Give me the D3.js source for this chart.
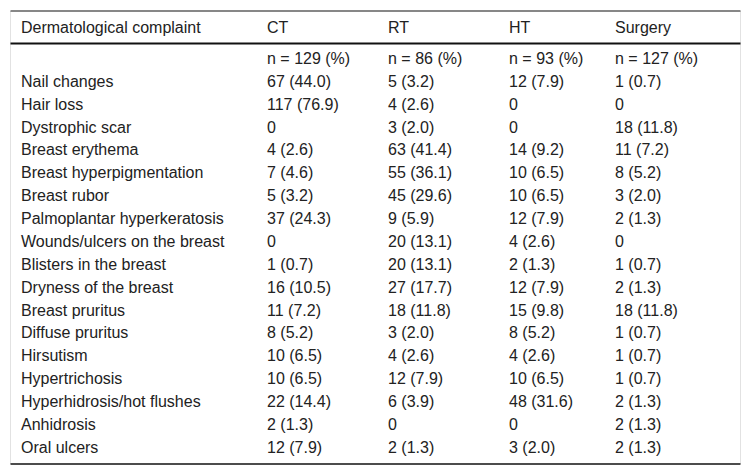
<!DOCTYPE html>
<html>
<head>
<meta charset="utf-8">
<script src="https://cdn.jsdelivr.net/npm/d3@7"></script>
<style>
  body { margin: 0; background: #fff; }
  text { font-family: "Liberation Sans", Arial, sans-serif; font-size: 16px; fill: #222; }
</style>
</head>
<body>
<svg id="tbl" width="751" height="476"></svg>
<script>
// table contents
const complaints = ['Nail changes', 'Hair loss', 'Dystrophic scar', 'Breast erythema',
  'Breast hyperpigmentation', 'Breast rubor', 'Palmoplantar hyperkeratosis',
  'Wounds/ulcers on the breast', 'Blisters in the breast', 'Dryness of the breast',
  'Breast pruritus', 'Diffuse pruritus', 'Hirsutism', 'Hypertrichosis',
  'Hyperhidrosis/hot flushes', 'Anhidrosis', 'Oral ulcers'];
const groups = ['CT', 'RT', 'HT', 'Surgery'];
const groupN = [129, 86, 93, 127];

const ctCount = [67, 117, 0, 4, 7, 5, 37, 0, 1, 16, 11, 8, 10, 10, 22, 2, 12];
const ctPct   = [44.0, 76.9, 0, 2.6, 4.6, 3.2, 24.3, 0, 0.7, 10.5, 7.2, 5.2, 6.5, 6.5, 14.4, 1.3, 7.9];
const rtCount = [5, 4, 3, 63, 55, 45, 9, 20, 20, 27, 18, 3, 4, 12, 6, 0, 2];
const rtPct   = [3.2, 2.6, 2.0, 41.4, 36.1, 29.6, 5.9, 13.1, 13.1, 17.7, 11.8, 2.0, 2.6, 7.9, 3.9, 0, 1.3];
const htCount = [12, 0, 0, 14, 10, 10, 12, 4, 2, 12, 15, 8, 4, 10, 48, 0, 3];
const htPct   = [7.9, 0, 0, 9.2, 6.5, 6.5, 7.9, 2.6, 1.3, 7.9, 9.8, 5.2, 2.6, 6.5, 31.6, 0, 2.0];
const suCount = [1, 0, 18, 11, 8, 3, 2, 0, 1, 2, 18, 1, 1, 1, 2, 2, 2];
const suPct   = [0.7, 0, 11.8, 7.2, 5.2, 2.0, 1.3, 0, 0.7, 1.3, 11.8, 0.7, 0.7, 0.7, 1.3, 1.3, 1.3];

const counts = [ctCount, rtCount, htCount, suCount];
const pcts = [ctPct, rtPct, htPct, suPct];

const fmt = (c, p) => c === 0 ? '0' : c + ' (' + p.toFixed(1) + ')';

const svg = d3.select('#tbl');
const tLeft = 10.5, tRight = 740.5, tTop = 11, headSep = 43.5, tBottom = 464;

// columns: label column then one per group
const columns = ['label'].concat(groups);
const x = d3.scaleOrdinal().domain(columns).range([21, 267, 388, 509, 615]);

// body rows: the "n =" row then one row per complaint
const rowKeys = ['n'].concat(complaints);
const y = d3.scaleBand().domain(rowKeys).range([47, 458.5]);

// side borders
svg.selectAll('line.side')
  .data([tLeft, tRight])
  .enter().append('line')
    .attr('class', 'side')
    .attr('x1', d => d).attr('x2', d => d)
    .attr('y1', tTop).attr('y2', tBottom)
    .attr('stroke', '#e2e2e2').attr('stroke-width', 1);

// rules
svg.append('line').attr('x1', tLeft).attr('x2', tRight).attr('y1', tTop).attr('y2', tTop)
  .attr('stroke', '#111').attr('stroke-width', 1.2);
svg.append('line').attr('x1', tLeft).attr('x2', tRight).attr('y1', headSep).attr('y2', headSep)
  .attr('stroke', '#111').attr('stroke-width', 2.2);
svg.append('line').attr('x1', tLeft).attr('x2', tRight).attr('y1', tBottom).attr('y2', tBottom)
  .attr('stroke', '#111').attr('stroke-width', 1.6);

// header
svg.selectAll('text.head')
  .data(columns)
  .enter().append('text')
    .attr('class', 'head')
    .attr('x', d => x(d))
    .attr('y', 27.5)
    .attr('dy', '0.35em')
    .text(d => d === 'label' ? 'Dermatological complaint' : d);

// n row
svg.selectAll('text.n')
  .data(groups)
  .enter().append('text')
    .attr('class', 'n')
    .attr('x', d => x(d))
    .attr('y', y('n') + y.bandwidth() / 2)
    .attr('dy', '0.35em')
    .text((d, i) => 'n = ' + groupN[i] + ' (%)');

// body
const rows = svg.selectAll('g.row')
  .data(complaints)
  .enter().append('g')
    .attr('class', 'row')
    .attr('transform', d => 'translate(0,' + (y(d) + y.bandwidth() / 2) + ')');

rows.append('text')
  .attr('x', x('label'))
  .attr('dy', '0.35em')
  .text(d => d);

groups.forEach(function(g, gi) {
  rows.append('text')
    .attr('x', x(g))
    .attr('dy', '0.35em')
    .text((d, i) => fmt(counts[gi][i], pcts[gi][i]));
});
</script>
</body>
</html>
